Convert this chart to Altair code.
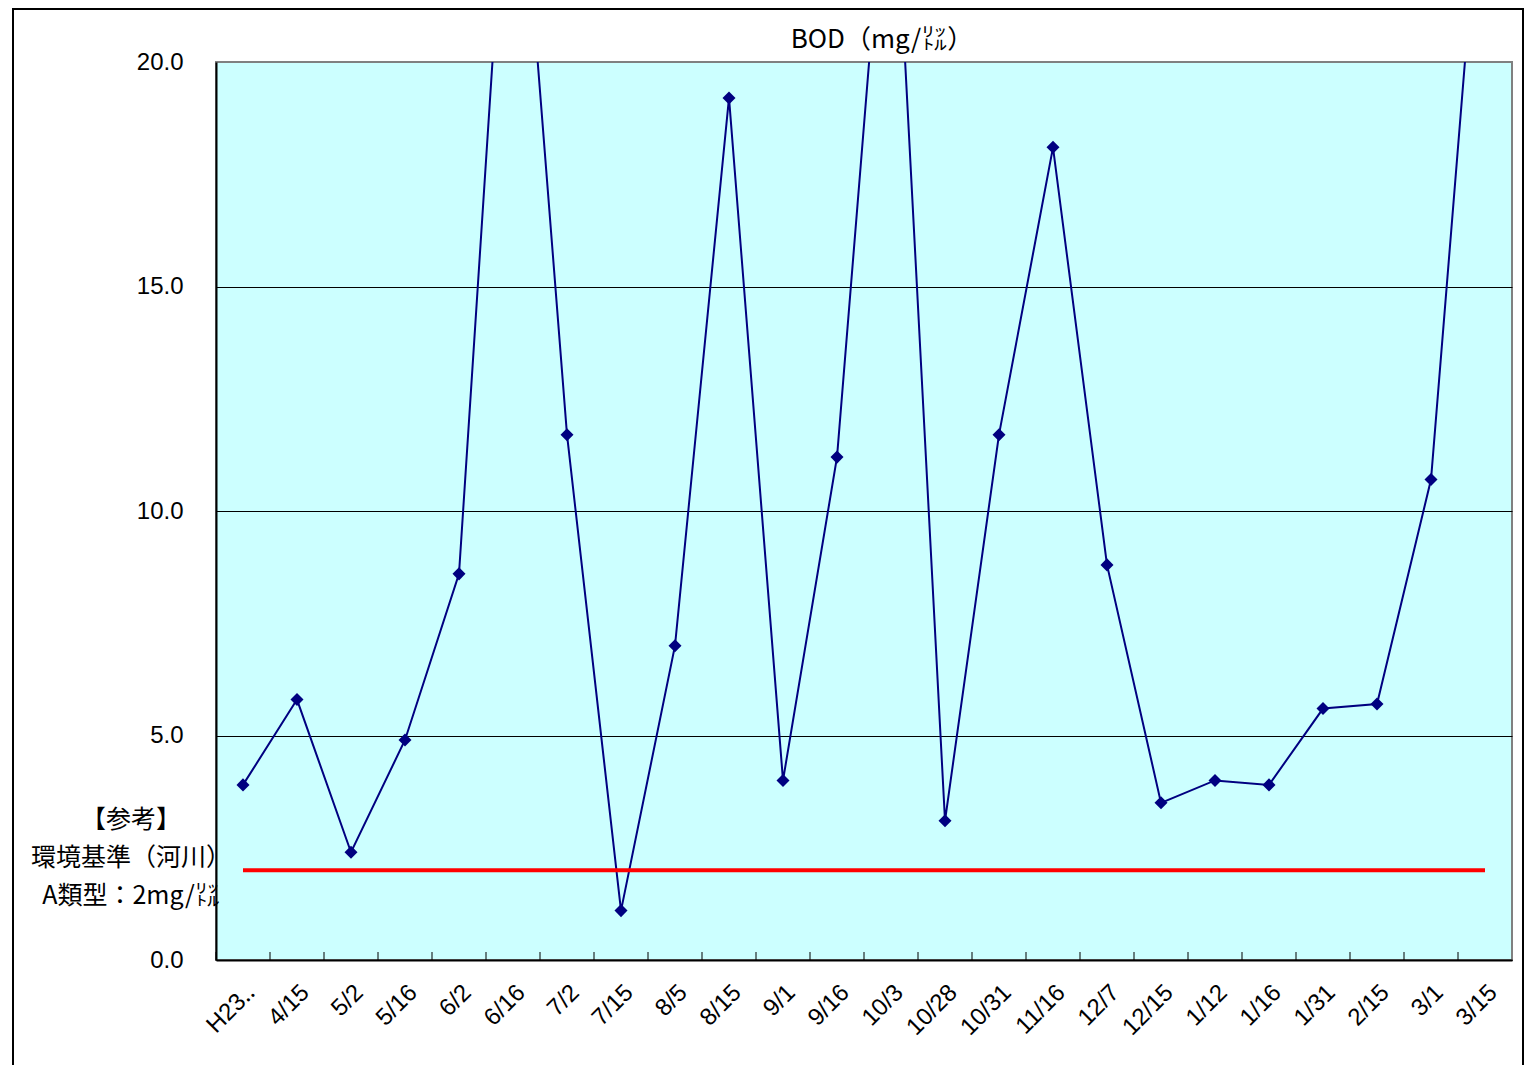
import altair as alt
import pandas as pd

dates = ["H23‥", "4/15", "5/2", "5/16", "6/2", "6/16", "7/2", "7/15", "8/5", "8/15",
         "9/1", "9/16", "10/3", "10/28", "10/31", "11/16", "12/7", "12/15", "1/12",
         "1/16", "1/31", "2/15", "3/1", "3/15"]
bod = [3.9, 5.8, 2.4, 4.9, 8.6, 27.0, 11.7, 1.1, 7.0, 19.2,
       4.0, 11.2, 26.0, 3.1, 11.7, 18.1, 8.8, 3.5, 4.0,
       3.9, 5.6, 5.7, 10.7, 25.5]
standard = 2.0
y_ticks = [0, 5, 10, 15, 20]
title_text = "BOD（mg/㍑）"
note_lines = ["【参考】", "環境基準（河川）", "A類型：2mg/㍑"]

df = pd.DataFrame({"date": dates, "bod": bod, "std": [standard] * len(dates)})

JP = "Noto Sans CJK JP"
NUM = "Liberation Sans"

xscale = alt.Scale(type="band", domain=dates, paddingInner=0, paddingOuter=0)
yscale = alt.Scale(domain=[0, 20], nice=False)

x_enc = alt.X("date:N", scale=xscale, bandPosition=0.5, title=None,
              axis=alt.Axis(labelAngle=-45, labelFont=NUM, labelFontSize=24,
                            labelColor="black", ticks=False, labelPadding=20,
                            domainColor="black", domainWidth=2, grid=False))
y_enc = alt.Y("bod:Q", scale=yscale, title=None,
              axis=alt.Axis(values=y_ticks, format=".1f", labelFont=NUM,
                            labelFontSize=24, labelColor="black", ticks=False,
                            tickSize=0, labelPadding=33, domainColor="black",
                            domainWidth=2, grid=True,
                            gridColor={"condition": {"test": "datum.value >= 20", "value": "#808080"},
                                       "value": "black"},
                            gridWidth=1))

base = alt.Chart(df)
one = base.transform_filter("datum.date == 'H23‥'")

frame = one.mark_rect(
    fillOpacity=0, stroke="black", strokeWidth=2, clip=False
).encode(x=alt.value(-203), x2=alt.value(1307), y=alt.value(-53), y2=alt.value(1100))

line = base.mark_line(color="#000080", strokeWidth=2, clip=True).encode(x=x_enc, y=y_enc)
pts = base.mark_point(shape="diamond", filled=True, color="#000080", size=170,
                      opacity=1, clip=True).encode(x=x_enc, y=y_enc)
ref = base.mark_line(color="#FF0000", strokeWidth=4).encode(
    x=x_enc, y=alt.Y("std:Q", scale=yscale))
ticks = base.mark_rule(color="black", strokeWidth=1).encode(
    x=alt.X("date:N", scale=xscale, bandPosition=0),
    y=alt.value(898), y2=alt.value(890))
note = one.mark_text(
    font=JP, fontSize=25, align="center", baseline="top", lineHeight=38, color="black"
).encode(x=alt.value(-85), y=alt.value(746), text=alt.value(note_lines))
title = one.mark_text(
    font=JP, fontSize=26, align="center", baseline="middle", color="black"
).encode(x=alt.value(666), y=alt.value(-22), text=alt.value(title_text))

chart = alt.layer(line, ref, pts, ticks, note, title, frame).properties(
    width=1296, height=898,
    autosize=alt.AutoSizeParams(type="none"),
    padding={"left": 208, "top": 54, "right": 12, "bottom": 105},
    background="white",
).configure_view(fill="#CCFFFF", stroke="#808080", strokeWidth=2)

chart.save("out.html", embed_options={"renderer": "svg", "actions": False})
